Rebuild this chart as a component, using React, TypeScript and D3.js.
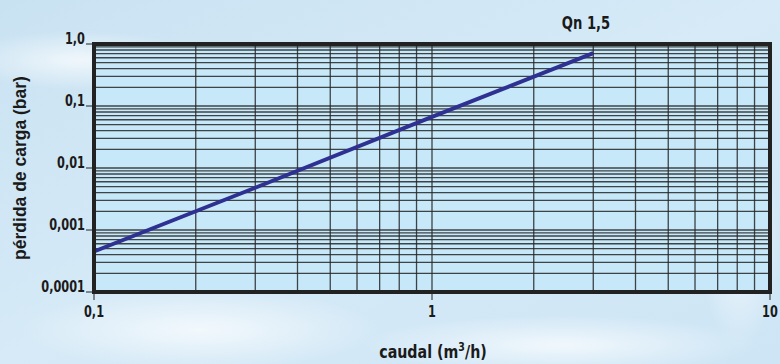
import * as d3 from 'd3';

// caudal (m3/h) vs pérdida de carga (bar), Qn 1,5
const flowValues = [0.1, 0.3, 1, 3];
const lossValues = [0.00045, 0.0048, 0.067, 0.71];

const xTicks = [0.1, 1, 10];
const xTickLabels = ['0,1', '1', '10'];
const yTicks = [0.0001, 0.001, 0.01, 0.1, 1];
const yTickLabels = ['0,0001', '0,001', '0,01', '0,1', '1,0'];

const seriesName = 'Qn 1,5';
const xTitle = 'caudal (m';
const yTitle = 'pérdida de carga (bar)';

const W = 780;
const H = 364;
const margin = { top: 44, right: 10, bottom: 72, left: 94 };

const condensed = '"Liberation Sans Narrow", "DejaVu Sans Condensed", Arial, sans-serif';

// narrow bold text: squeeze horizontally to mimic a condensed face
const Narrow = ({ x, y, anchor, size, sx = 0.84, children }: any) => (
    <g transform={`translate(${x},${y}) scale(${sx},1)`}>
        <text textAnchor={anchor} fontFamily={condensed} fontWeight="bold" fontSize={size} fill="#1a1a1a">
            {children}
        </text>
    </g>
);

export default function App() {
    const x = d3.scaleLog().domain([0.1, 10]).range([margin.left, W - margin.right]);
    const y = d3.scaleLog().domain([0.0001, 1]).range([H - margin.bottom, margin.top]);

    // minor grid: 1..9 within each decade
    const xGrid: number[] = [];
    for (const dec of [0.1, 1]) for (let k = 1; k < 10; k++) xGrid.push(dec * k);
    const yGrid: number[] = [];
    for (const dec of [0.0001, 0.001, 0.01, 0.1]) for (let k = 1; k < 10; k++) yGrid.push(dec * k);

    const line = d3.line<number>()
        .x((_, i) => x(flowValues[i]))
        .y(d => y(d));

    const [x0, x1] = x.range();
    const [y1, y0] = y.range();

    return (
        <div style={{ position: 'fixed', left: 0, top: 0 }}>
            <svg width={W} height={H} style={{ display: 'block' }}>
                <defs>
                    <linearGradient id="bg" x1="0" y1="0" x2="1" y2="1">
                        <stop offset="0%" stopColor="#c9e2f2" />
                        <stop offset="50%" stopColor="#d6eaf7" />
                        <stop offset="100%" stopColor="#cde5f5" />
                    </linearGradient>
                    <radialGradient id="glow1" cx="0.5" cy="0.5" r="0.5">
                        <stop offset="0%" stopColor="#ffffff" stopOpacity="0.7" />
                        <stop offset="100%" stopColor="#ffffff" stopOpacity="0" />
                    </radialGradient>
                </defs>
                <rect width={W} height={H} fill="url(#bg)" />
                <ellipse cx={200} cy={330} rx={180} ry={40} fill="url(#glow1)" />
                <ellipse cx={560} cy={345} rx={200} ry={30} fill="url(#glow1)" />
                <ellipse cx={80} cy={60} rx={120} ry={30} fill="url(#glow1)" />
                <ellipse cx={740} cy={240} rx={40} ry={110} fill="url(#glow1)" />

                {/* plot area */}
                <rect x={x0} y={y0} width={x1 - x0} height={y1 - y0} fill="#c6e8f9" />

                {/* grid */}
                <g stroke="#262626" strokeWidth={1.3} strokeOpacity={0.85}>
                    {yGrid.map((v, i) => (
                        <line key={'h' + i} x1={x0} x2={x1} y1={y(v)} y2={y(v)} />
                    ))}
                    {xGrid.map((v, i) => (
                        <line key={'v' + i} x1={x(v)} x2={x(v)} y1={y0} y2={y1} />
                    ))}
                </g>

                {/* series */}
                <path d={line(lossValues) || ''} fill="none" stroke="#2e3192" strokeWidth={4} />

                {/* frame */}
                <rect x={x0} y={y0} width={x1 - x0} height={y1 - y0} fill="none" stroke="#222" strokeWidth={4} />

                {/* ticks */}
                {yTicks.map((v, i) => (
                    <g key={'yt' + i}>
                        <line x1={x0 - 8} x2={x0} y1={y(v)} y2={y(v)} stroke="#222" strokeWidth={1} />
                        <Narrow x={x0 - 9} y={y(v)} anchor="end" size={15}>{yTickLabels[i]}</Narrow>
                    </g>
                ))}
                {xTicks.map((v, i) => (
                    <g key={'xt' + i}>
                        <line x1={x(v)} x2={x(v)} y1={y1} y2={y1 + 8} stroke="#222" strokeWidth={1} />
                        <Narrow x={x(v)} y={y1 + 25} anchor="middle" size={15}>{xTickLabels[i]}</Narrow>
                    </g>
                ))}

                {/* series label */}
                <Narrow x={586} y={29} anchor="middle" size={17} sx={0.86}>{seriesName}</Narrow>

                {/* axis titles */}
                <Narrow x={433} y={358} anchor="middle" size={18} sx={0.88}>
                    {xTitle}<tspan dy={-7} fontSize={12}>3</tspan><tspan dy={7}>/h)</tspan>
                </Narrow>
                <text transform={`translate(26,${(y0 + y1) / 2}) rotate(-90)`} textAnchor="middle"
                    fontFamily="'Liberation Sans', Arial, sans-serif" fontWeight="bold" fontSize={17.5}
                    fill="#1a1a1a">{yTitle}</text>
            </svg>
        </div>
    );
}
